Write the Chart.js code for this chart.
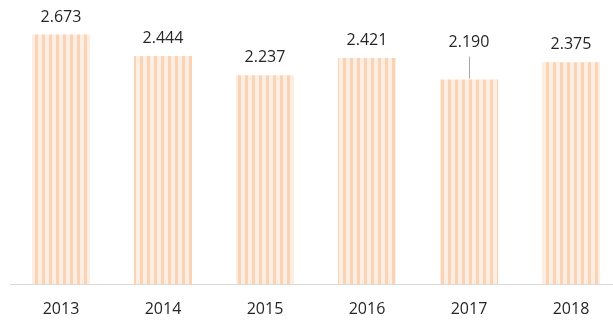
<!DOCTYPE html>
<html>
<head>
<meta charset="utf-8">
<script src="https://cdn.jsdelivr.net/npm/chart.js@4.4.0/dist/chart.umd.min.js"></script>
<style>
    html, body { margin: 0; padding: 0; background: #fff; overflow: hidden; }
    #wrap { width: 622px; height: 324px; }
</style>
</head>
<body>
<div id="wrap"><canvas id="graphCanvas"></canvas></div>
<script>
var years = ['2013', '2014', '2015', '2016', '2017', '2018'];
var values = [2673, 2444, 2237, 2421, 2190, 2375];

// label lifted above the bar (2017 has a leader line)
var labelLift = [13, 13, 13, 13, 33, 13];

function stripes() {
    var c = document.createElement('canvas');
    c.width = 7;
    c.height = 10;
    var g = c.getContext('2d');
    g.fillStyle = '#FDEEE3';
    g.fillRect(0, 0, 7, 10);
    g.fillStyle = '#F9D3B4';
    g.fillRect(0, 0, 3, 10);
    return g.createPattern(c, 'repeat');
}

function fmt(v) {
    return String(v).replace(/\B(?=(\d{3})+(?!\d))/g, '.');
}

var barLabels = {
    id: 'barLabels',
    afterDatasetsDraw: function (chart) {
        var ctx = chart.ctx;
        var meta = chart.getDatasetMeta(0);
        ctx.save();
        ctx.font = '16px "Open Sans", sans-serif';
        ctx.fillStyle = '#262626';
        ctx.textAlign = 'center';
        ctx.textBaseline = 'alphabetic';
        meta.data.forEach(function (bar, i) {
            var lift = labelLift[i];
            ctx.fillText(fmt(values[i]), bar.x, bar.y - lift);
            if (lift > 13) {
                ctx.strokeStyle = '#A6A6A6';
                ctx.lineWidth = 1;
                ctx.beginPath();
                ctx.moveTo(Math.round(bar.x) + 0.5, bar.y - lift + 10);
                ctx.lineTo(Math.round(bar.x) + 0.5, bar.y - 1);
                ctx.stroke();
            }
        });
        ctx.restore();
    }
};

var chartdata = {
    labels: years,
    datasets: [
        {
            data: values,
            backgroundColor: stripes(),
            borderWidth: 0,
            barPercentage: 0.57,
            categoryPercentage: 1
        }
    ]
};

var barGraph = new Chart(document.getElementById('graphCanvas'), {
    type: 'bar',
    data: chartdata,
    plugins: [barLabels],
    options: {
        responsive: true,
        maintainAspectRatio: false,
        animation: false,
        layout: { padding: { left: 10, right: 0, top: 4, bottom: 5 } },
        plugins: {
            legend: { display: false },
            tooltip: { enabled: false }
        },
        scales: {
            x: {
                grid: { display: false, drawTicks: false },
                border: { display: true, color: '#D9D9D9', width: 1 },
                ticks: {
                    padding: 16,
                    color: '#262626',
                    font: { family: '"Open Sans", sans-serif', size: 16 }
                },
                afterFit: function (scale) {
                    scale.height = 35;
                }
            },
            y: {
                display: false,
                min: 0,
                max: 3000
            }
        }
    }
});
</script>
</body>
</html>
